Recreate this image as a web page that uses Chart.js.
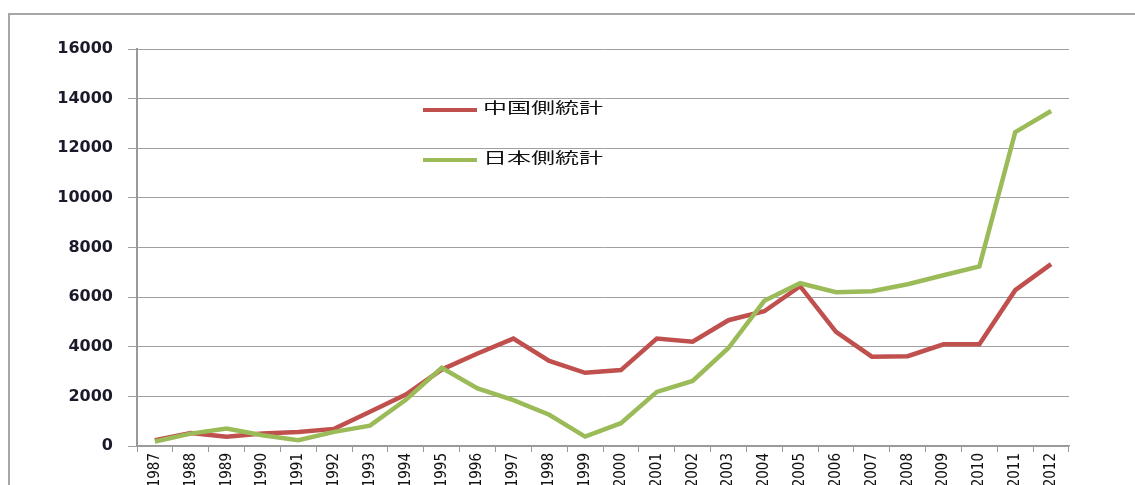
<!DOCTYPE html>
<html>
<head>
<meta charset="utf-8">
<script src="https://cdn.jsdelivr.net/npm/chart.js@4.4.0/dist/chart.umd.min.js"></script>
<style>
  html, body { margin: 0; padding: 0; background: #fff; width: 1135px; height: 485px; overflow: hidden; }
  #frame { position: absolute; left: 8px; top: 13px; width: 1140px; height: 480px;
           border-left: 2px solid #a6a6a6; border-top: 2px solid #a6a6a6; }
  #wrap { position: absolute; left: 0; top: 0; width: 1135px; height: 485px; }
</style>
</head>
<body>
<div id="frame"></div>
<div id="wrap"><canvas id="chart"></canvas></div>
<script>
const years = ['1987', '1988', '1989', '1990', '1991', '1992', '1993', '1994', '1995', '1996',
  '1997', '1998', '1999', '2000', '2001', '2002', '2003', '2004', '2005', '2006',
  '2007', '2008', '2009', '2010', '2011', '2012'];

// 中国側統計
const chinaStats = [230, 520, 370, 500, 560, 690, 1380, 2070, 3080, 3730,
  4330, 3430, 2950, 3060, 4330, 4200, 5070, 5430, 6440, 4600,
  3600, 3620, 4100, 4100, 6280, 7330];

// 日本側統計
const japanStats = [180, 500, 700, 430, 230, 570, 820, 1860, 3150, 2320,
  1850, 1260, 380, 920, 2180, 2620, 3950, 5850, 6560, 6200,
  6240, 6520, 6880, 7240, 12650, 13500];

const seriesNames = ['中国側統計', '日本側統計'];
const yTicks = [0, 2000, 4000, 6000, 8000, 10000, 12000, 14000, 16000];

// legend drawn by hand, stretched a bit like the original screenshot
const floatingLegend = {
  id: 'floatingLegend',
  afterDraw(chart) {
    const ctx = chart.ctx;
    const rows = [{ y: 110, ty: 107 }, { y: 160, ty: 157 }];
    chart.data.datasets.forEach((ds, i) => {
      const r = rows[i];
      ctx.save();
      ctx.strokeStyle = ds.borderColor;
      ctx.lineWidth = 4;
      ctx.beginPath();
      ctx.moveTo(423, r.y);
      ctx.lineTo(477, r.y);
      ctx.stroke();
      ctx.translate(483, r.ty);
      ctx.scale(1.6, 1);
      ctx.fillStyle = '#111';
      ctx.font = '15px "Noto Sans CJK JP", sans-serif';
      ctx.textBaseline = 'middle';
      ctx.fillText(ds.label, 0, 0);
      ctx.restore();
    });
  }
};

const ctx = document.getElementById('chart').getContext('2d');
new Chart(ctx, {
  type: 'line',
  data: {
    labels: years,
    datasets: [
      {
        label: seriesNames[0],
        data: chinaStats,
        borderColor: '#c0504d',
        borderWidth: 4.5,
        pointRadius: 0,
        tension: 0,
        fill: false,
        order: 1
      },
      {
        label: seriesNames[1],
        data: japanStats,
        borderColor: '#9bbb59',
        borderWidth: 4.5,
        pointRadius: 0,
        tension: 0,
        fill: false,
        order: 0
      }
    ]
  },
  options: {
    responsive: true,
    maintainAspectRatio: false,
    animation: false,
    layout: { padding: { left: 0, top: 49, right: 66, bottom: 0 } },
    plugins: {
      legend: { display: false },
      tooltip: { enabled: false }
    },
    scales: {
      x: {
        offset: true,
        afterFit: (scale) => { scale.height = 39; },
        grid: {
          offset: true,
          drawOnChartArea: false,
          drawTicks: true,
          tickLength: 6,
          color: '#999'
        },
        border: { color: '#999', width: 1.5 },
        ticks: {
          autoSkip: false,
          minRotation: 90,
          maxRotation: 90,
          padding: 1,
          color: '#111',
          font: { family: '"Liberation Sans Narrow", "DejaVu Sans Condensed", sans-serif', size: 15 }
        }
      },
      y: {
        min: 0,
        max: 16000,
        afterFit: (scale) => { scale.width = 137; },
        afterBuildTicks: (scale) => { scale.ticks = yTicks.map(v => ({ value: v })); },
        grid: {
          color: '#a0a0a0',
          lineWidth: 1,
          tickLength: 9
        },
        border: { color: '#999', width: 2 },
        ticks: {
          padding: 15,
          color: '#1a1a2a',
          font: { family: '"DejaVu Sans", sans-serif', size: 16, weight: 'bold' },
          callback: (v) => String(v)
        }
      }
    }
  },
  plugins: [floatingLegend]
});
</script>
</body>
</html>
